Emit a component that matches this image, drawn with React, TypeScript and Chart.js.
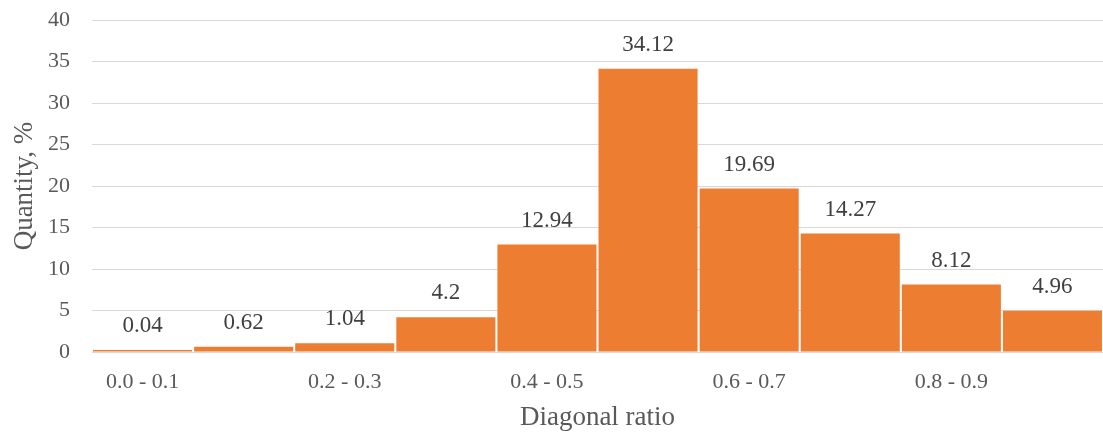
import React, { useEffect, useRef } from "react";
import { Chart, registerables } from "chart.js";

Chart.register(...registerables);

const categories = ["0.0 - 0.1", "0.1 - 0.2", "0.2 - 0.3", "0.3 - 0.4", "0.4 - 0.5", "0.5 - 0.6", "0.6 - 0.7", "0.7 - 0.8", "0.8 - 0.9", "0.9 - 1.0"];
const quantities = [0.04, 0.62, 1.04, 4.2, 12.94, 34.12, 19.69, 14.27, 8.12, 4.96];
const yTicks = [0, 5, 10, 15, 20, 25, 30, 35, 40];

const FONT = "'Liberation Serif', 'Times New Roman', serif";

const labelPlugin = {
  id: "barLabels",
  afterDatasetsDraw(chart: any) {
    const ctx = chart.ctx;
    const meta = chart.getDatasetMeta(0);
    ctx.save();
    ctx.font = `23px ${FONT}`;
    ctx.fillStyle = "#404040";
    ctx.textAlign = "center";
    ctx.textBaseline = "middle";
    meta.data.forEach((bar: any, i: number) => {
      ctx.fillText(String(quantities[i]), bar.x, bar.y - 24);
    });
    ctx.restore();
  },
};

export default function App() {
  const ref = useRef<HTMLCanvasElement>(null);
  useEffect(() => {
    const chart = new Chart(ref.current!, {
      type: "bar",
      data: {
        labels: categories,
        datasets: [
          {
            data: quantities,
            backgroundColor: "#ED7D31",
            barPercentage: 1,
            categoryPercentage: 0.98,
            minBarLength: 2,
          },
        ],
      },
      options: {
        animation: false,
        responsive: false,
        maintainAspectRatio: false,
        layout: { padding: { top: 20, right: 0, left: 0, bottom: 0 } },
        plugins: { legend: { display: false }, tooltip: { enabled: false } },
        scales: {
          x: {
            afterFit: (axis: any) => {
              axis.height = 82;
            },
            grid: { display: false },
            border: { display: true, color: "#d9d9d9" },
            ticks: {
              color: "#595959",
              font: { family: FONT, size: 22 },
              autoSkip: false,
              maxRotation: 0,
              padding: 9,
              callback: (v: any, i: number) => (i % 2 === 0 ? categories[i] : ""),
            },
            title: {
              display: true,
              text: "Diagonal ratio",
              color: "#595959",
              font: { family: FONT, size: 27 },
              padding: { top: 4, bottom: 0 },
            },
          },
          y: {
            min: 0,
            max: 40,
            afterFit: (axis: any) => {
              axis.width = 92;
              axis.paddingTop = 0;
              axis.paddingBottom = 0;
            },
            afterBuildTicks: (axis: any) => {
              axis.ticks = yTicks.map((v) => ({ value: v }));
            },
            grid: { color: "#d9d9d9", drawTicks: false },
            border: { display: false },
            ticks: {
              color: "#595959",
              font: { family: FONT, size: 22 },
              padding: 22,
            },
            title: {
              display: true,
              text: "Quantity, %",
              color: "#595959",
              font: { family: FONT, size: 27 },
              padding: { top: 9, bottom: 0 },
            },
          },
        },
      },
      plugins: [labelPlugin],
    });
    return () => chart.destroy();
  }, []);
  return (
    <div style={{ position: "fixed", left: 0, top: 0, width: 1103, height: 434, background: "#fff" }}>
      <canvas ref={ref} width={1103} height={434} />
    </div>
  );
}
